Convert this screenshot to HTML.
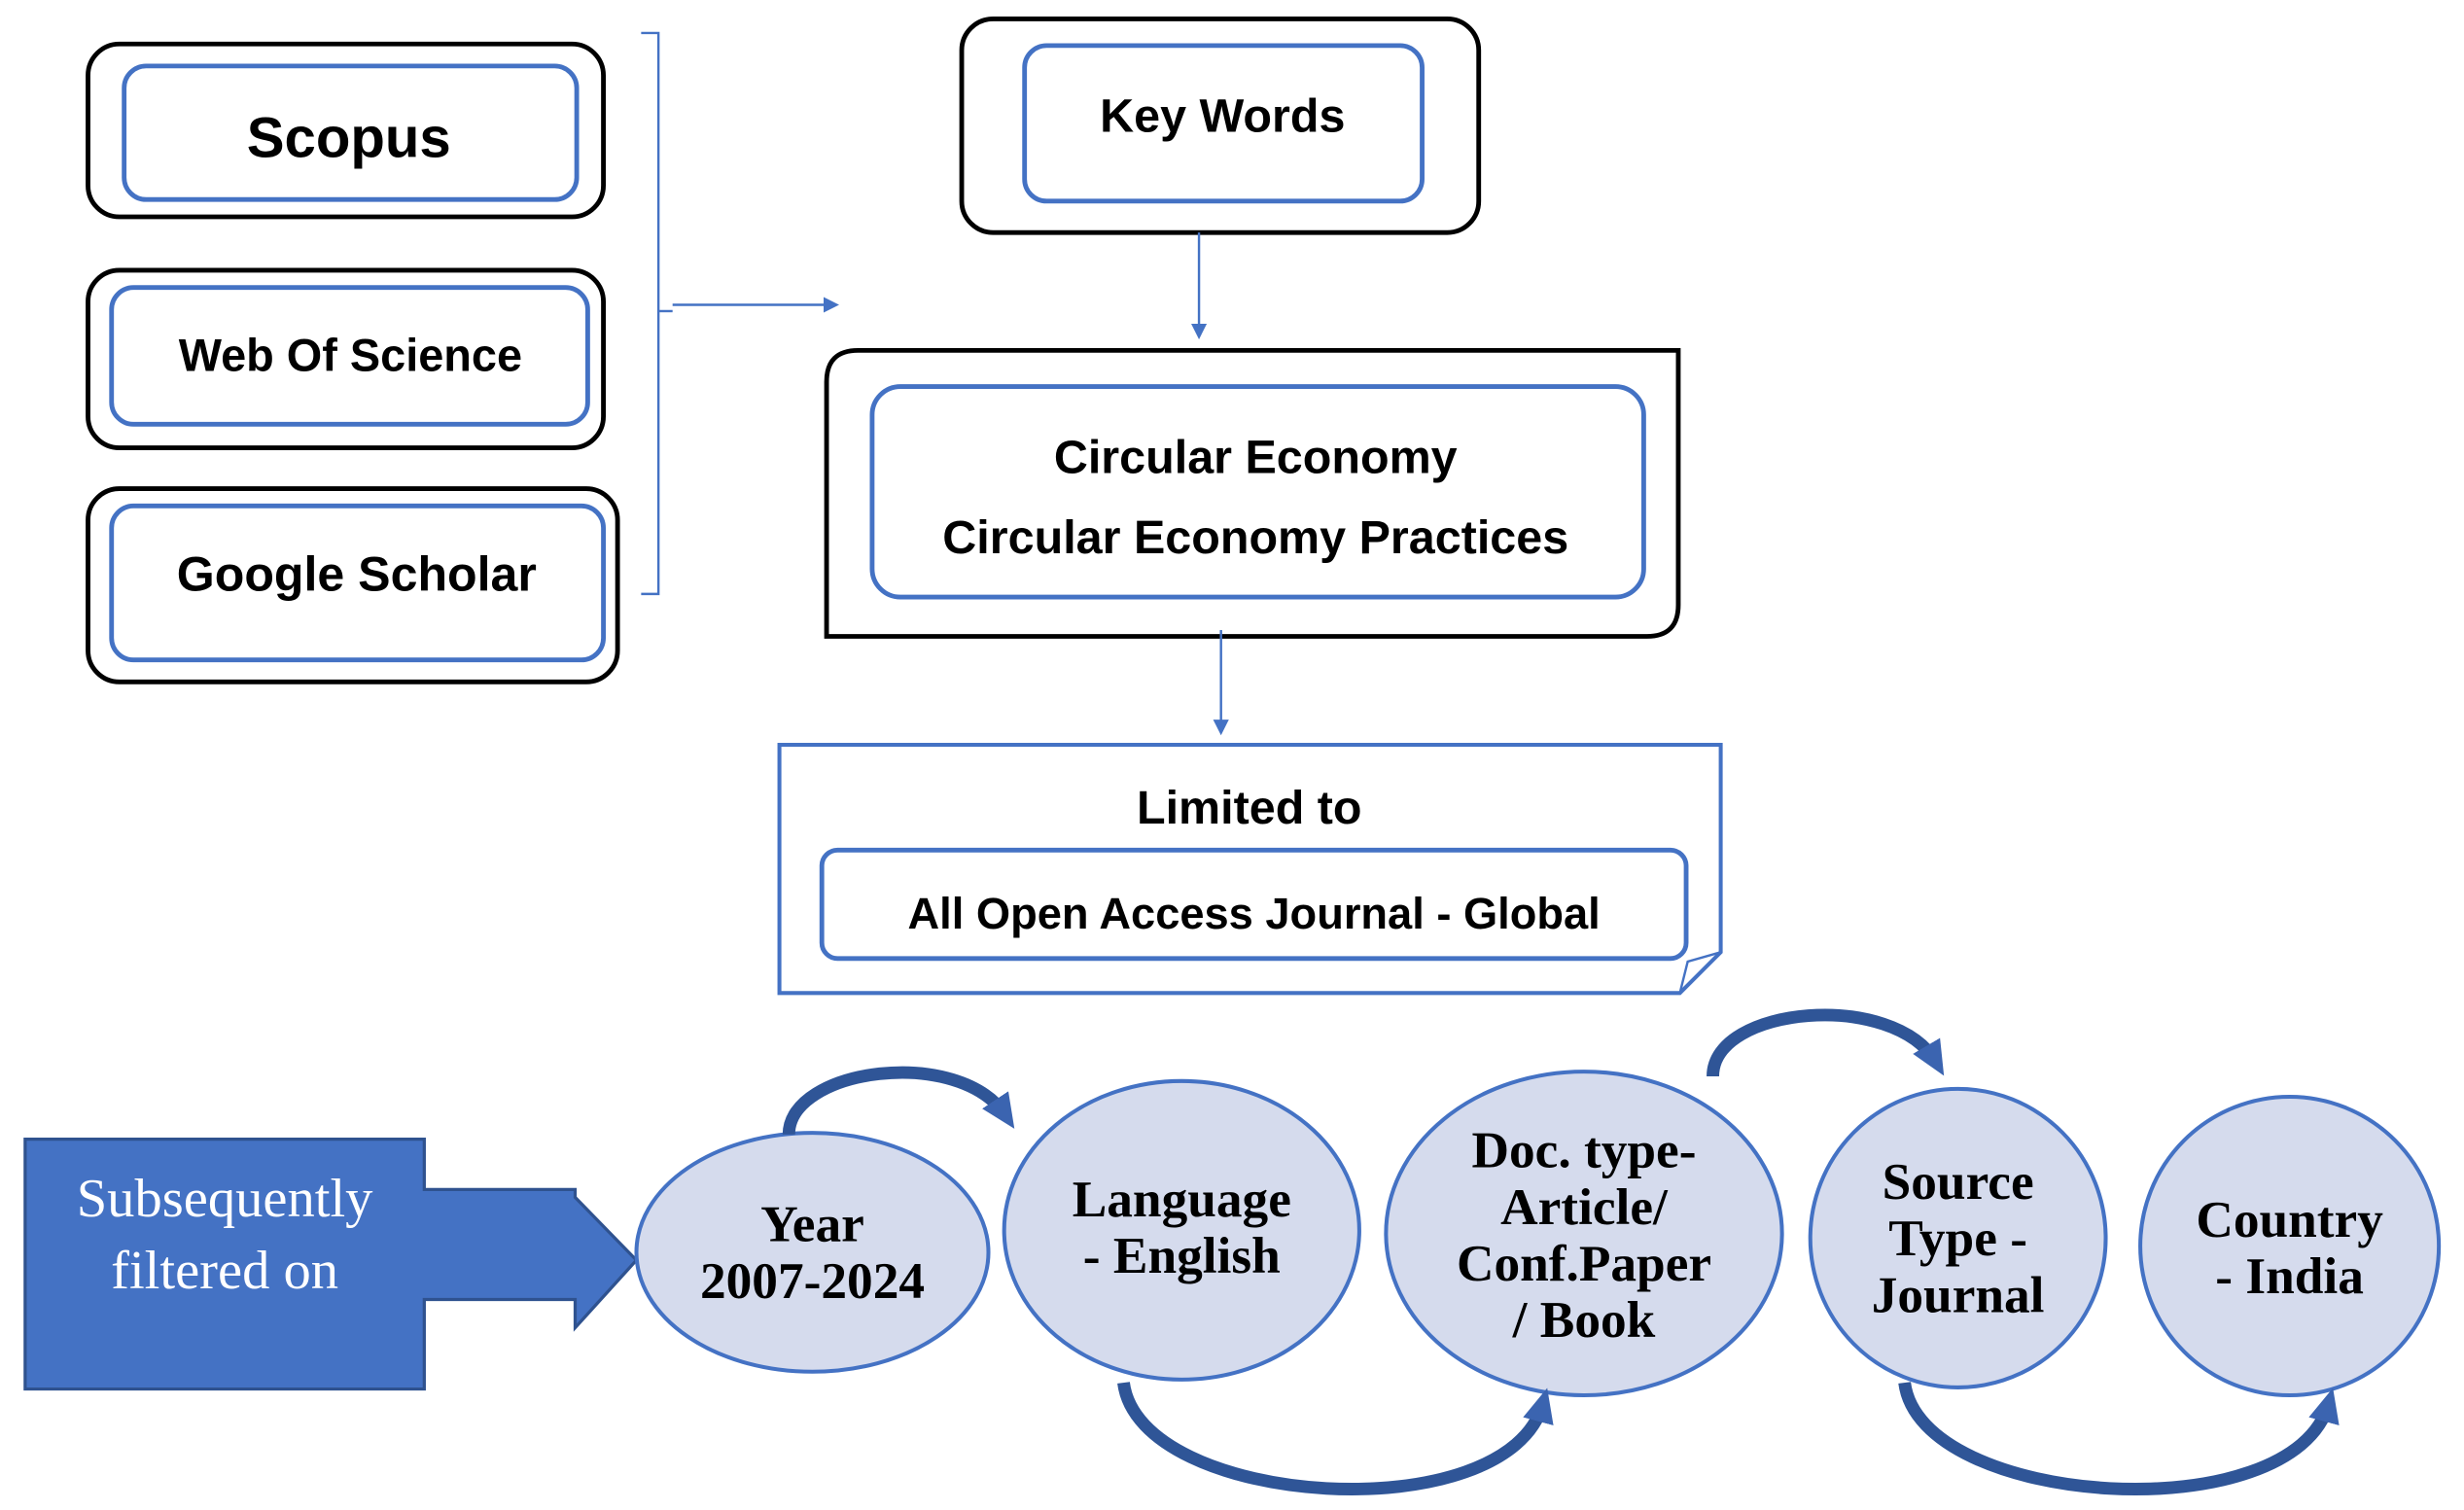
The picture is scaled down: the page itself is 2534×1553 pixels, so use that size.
<!DOCTYPE html>
<html><head><meta charset="utf-8"><style>
html,body{margin:0;padding:0;background:#fff}
svg{display:block}
.s{font-family:"Liberation Sans",sans-serif;font-weight:bold;fill:#000}
.r{font-family:"Liberation Serif",serif;font-weight:bold;fill:#000}
</style></head><body>
<svg width="2534" height="1553" viewBox="0 0 1568 961" preserveAspectRatio="none" xmlns="http://www.w3.org/2000/svg">
<defs>
<marker id="a" markerWidth="10" markerHeight="10" refX="8" refY="5" orient="auto" markerUnits="userSpaceOnUse"><path d="M0,0 L10,5 L0,10 z" fill="#4472c4"/></marker>
<marker id="b" markerWidth="24" markerHeight="24" refX="12" refY="12" orient="auto" markerUnits="userSpaceOnUse"><path d="M0,2 L22,12 L0,22 z" fill="#3b64b0"/></marker>
</defs>
<g fill="none" stroke="#000" stroke-width="3">
<rect x="56" y="28" width="328" height="110" rx="20"/>
<rect x="56" y="172" width="328" height="113" rx="20"/>
<rect x="56" y="311" width="337" height="123" rx="20"/>
<rect x="612" y="12" width="329" height="136" rx="20"/>
<path d="M546,223 H1068 V385 Q1068,405 1048,405 H526 V243 Q526,223 546,223 Z"/>
</g>
<g fill="none" stroke="#4472c4" stroke-width="3">
<rect x="79" y="42" width="288" height="85" rx="14"/>
<rect x="71" y="183" width="303" height="87" rx="14"/>
<rect x="71" y="322" width="313" height="98" rx="14"/>
<rect x="652" y="29" width="253" height="99" rx="14"/>
<rect x="555" y="246" width="491" height="134" rx="18"/>
<rect x="523" y="541" width="550" height="69" rx="10"/>
<path d="M496,474 H1095 V606 L1069,632 H496 Z" stroke-width="2.5"/>
<path d="M1069,632 L1074,612 L1095,606" stroke-width="1.5"/>
</g>
<g fill="none" stroke="#4472c4" stroke-width="1.5">
<path d="M408,21 H419 V378 H408"/>
<path d="M419,198 H428"/>
<path d="M428,194 H532" marker-end="url(#a)"/>
<path d="M763,148 V214" marker-end="url(#a)"/>
<path d="M777,401 V466" marker-end="url(#a)"/>
</g>
<text class="s" x="222" y="100" font-size="36" text-anchor="middle">Scopus</text>
<text class="s" x="223" y="236" font-size="29" text-anchor="middle">Web Of Science</text>
<text class="s" x="227" y="376" font-size="31" text-anchor="middle">Google Scholar</text>
<text class="s" x="778" y="84" font-size="30" text-anchor="middle">Key Words</text>
<text class="s" x="799" y="301" font-size="30" text-anchor="middle">Circular Economy</text>
<text class="s" x="799" y="352" font-size="30" text-anchor="middle">Circular Economy Practices</text>
<text class="s" x="795" y="524" font-size="30" text-anchor="middle">Limited to</text>
<text class="s" x="798" y="591" font-size="28" text-anchor="middle">All Open Access Journal - Global</text>
<path d="M16,725 H270 V757 H366 V762 L405,802 L366,845 V827 H270 V884 H16 Z" fill="#4472c4" stroke="#2f528f" stroke-width="2"/>
<text x="143" y="774" font-family="Liberation Serif,serif" font-size="35" fill="#fff" text-anchor="middle">Subsequently</text>
<text x="143" y="820" font-family="Liberation Serif,serif" font-size="35" fill="#fff" text-anchor="middle">filtered on</text>
<g fill="#d5dbed" stroke="#4472c4" stroke-width="2.5">
<ellipse cx="517" cy="797" rx="112" ry="76"/>
<ellipse cx="752" cy="783" rx="113" ry="95"/>
<ellipse cx="1008" cy="785" rx="126" ry="103"/>
<ellipse cx="1246" cy="788" rx="94" ry="95"/>
<ellipse cx="1457" cy="793" rx="95" ry="95"/>
</g>
<g fill="none" stroke="#2f5597" stroke-width="8">
<path d="M502,722 C502,680 610,665 640,710" marker-end="url(#b)"/>
<path d="M1090,685 C1090,640 1205,630 1232,676" marker-end="url(#b)"/>
<path d="M715,880 C725,960 960,975 982,893" marker-end="url(#b)"/>
<path d="M1212,880 C1222,960 1460,975 1482,893" marker-end="url(#b)"/>
</g>
<g class="r" text-anchor="middle" font-size="33">
<text x="517" y="790">Year</text>
<text x="517" y="826">2007-2024</text>
<text x="752" y="774">Language</text>
<text x="752" y="810">- English</text>
<text x="1008" y="743">Doc. type-</text>
<text x="1008" y="779">Article/</text>
<text x="1008" y="815">Conf.Paper</text>
<text x="1008" y="851">/ Book</text>
<text x="1246" y="763">Source</text>
<text x="1246" y="799">Type -</text>
<text x="1246" y="835">Journal</text>
<text x="1457" y="787">Country</text>
<text x="1457" y="823">- India</text>
</g>
</svg>
</body></html>
